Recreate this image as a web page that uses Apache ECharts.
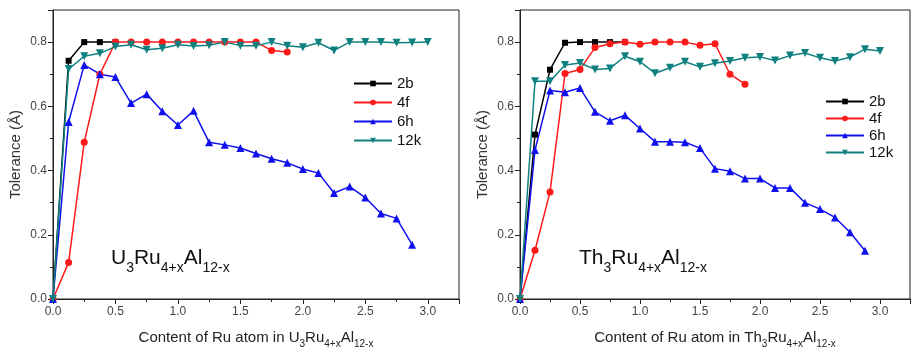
<!DOCTYPE html>
<html><head><meta charset="utf-8">
<script src="https://cdn.jsdelivr.net/npm/echarts@6/dist/echarts.min.js"></script>
<style>html,body{margin:0;padding:0;background:#fff}#c{width:913px;height:354px}</style>
</head><body><div id="c"></div>
<script>
// x step of composition grid (Ru content)
const xStep = 0.125;
const seriesNames = ['2b', '4f', '6h', '12k'];
const xTickLabels = ['0.0', '0.5', '1.0', '1.5', '2.0', '2.5', '3.0'];
const yTickLabels = ['0.0', '0.2', '0.4', '0.6', '0.8'];

// U3Ru4+xAl12-x (left)
const u_2b  = [0, 0.742, 0.800, 0.800, 0.800];
const u_4f  = [0, 0.114, 0.488, 0.700, 0.800, 0.800, 0.800, 0.800, 0.800, 0.800, 0.800, 0.800, 0.800, 0.800, 0.774, 0.769];
const u_6h  = [0, 0.551, 0.729, 0.700, 0.691, 0.610, 0.638, 0.585, 0.542, 0.586, 0.488, 0.480, 0.470, 0.453, 0.437, 0.424, 0.405, 0.392, 0.330, 0.350, 0.316, 0.266, 0.251, 0.169];
const u_12k = [0, 0.716, 0.756, 0.765, 0.786, 0.792, 0.776, 0.781, 0.792, 0.788, 0.790, 0.800, 0.789, 0.789, 0.800, 0.789, 0.784, 0.798, 0.774, 0.800, 0.800, 0.800, 0.798, 0.799, 0.800];

// Th3Ru4+xAl12-x (right)
const th_2b  = [0, 0.512, 0.714, 0.798, 0.800, 0.800, 0.800, 0.800];
const th_4f  = [0, 0.152, 0.333, 0.702, 0.715, 0.783, 0.795, 0.800, 0.793, 0.800, 0.800, 0.800, 0.790, 0.795, 0.700, 0.669];
const th_6h  = [0, 0.464, 0.649, 0.644, 0.657, 0.583, 0.555, 0.572, 0.531, 0.490, 0.490, 0.488, 0.470, 0.406, 0.398, 0.375, 0.375, 0.346, 0.346, 0.300, 0.280, 0.254, 0.208, 0.150];
const th_12k = [0, 0.678, 0.678, 0.729, 0.735, 0.715, 0.718, 0.756, 0.739, 0.703, 0.720, 0.739, 0.723, 0.734, 0.741, 0.751, 0.754, 0.743, 0.758, 0.766, 0.751, 0.741, 0.753, 0.778, 0.772];

const FONT = '"Liberation Sans", Arial, sans-serif';
const colors = {'2b': '#000000', '4f': '#ff1a1a', '6h': '#1010ee', '12k': '#0f8080'};
const symbols = {'2b': 'rect', '4f': 'circle', '6h': 'triangle', '12k': 'path://M0,0 L10,0 L5,9 Z'};
const sizes = {'2b': 6, '4f': 7, '6h': 8, '12k': 8};

function pairs(arr) { return arr.map((v, i) => [i * xStep, v]); }

function mkSeries(name, arr, idx) {
  return {
    name: name, type: 'line', xAxisIndex: idx, yAxisIndex: idx,
    data: pairs(arr), symbol: symbols[name], symbolSize: sizes[name],
    showAllSymbol: true,
    lineStyle: {color: colors[name], width: 1.5},
    itemStyle: {color: colors[name]},
    animation: false
  };
}

const sub = {fontSize: 10, padding: [13, 0, 0, 0], fontFamily: FONT, color: '#222'};
const nrm = {fontSize: 15, fontFamily: FONT, color: '#222'};

function xAx(idx, compound) {
  return {
    type: 'value', gridIndex: idx, min: 0, max: 3.25, interval: 0.5,
    name: compound, nameLocation: 'middle', nameGap: 27,
    nameTextStyle: {rich: {n: nrm, s: sub}},
    axisLine: {lineStyle: {color: '#222', width: 1}},
    axisTick: {inside: false, length: 5, lineStyle: {color: '#222'}},
    minorTick: {show: true, splitNumber: 2, length: 3, lineStyle: {color: '#222'}},
    axisLabel: {color: '#444', fontSize: 12, fontFamily: FONT, margin: 7,
      formatter: v => { const k = Math.round(v / 0.5); return xTickLabels[k] !== undefined && Math.abs(v - k * 0.5) < 1e-9 ? xTickLabels[k] : ''; }},
    splitLine: {show: false}
  };
}
function yAx(idx) {
  return {
    type: 'value', gridIndex: idx, min: 0, max: 0.9, interval: 0.2,
    name: 'Tolerance (Å)', nameLocation: 'middle', nameGap: 30, nameRotate: 90,
    nameTextStyle: {fontSize: 15, fontFamily: FONT, color: '#333'},
    axisLine: {lineStyle: {color: '#222', width: 1}},
    axisTick: {inside: false, length: 5, lineStyle: {color: '#222'}},
    minorTick: {show: true, splitNumber: 2, length: 3, lineStyle: {color: '#222'}},
    axisLabel: {color: '#444', fontSize: 12, fontFamily: FONT, margin: 6,
      formatter: v => { const k = Math.round(v / 0.2); return Math.abs(v - k * 0.2) < 1e-9 && yTickLabels[k] ? yTickLabels[k] : ''; }},
    splitLine: {show: false}
  };
}

const bigRich = {b: {fontSize: 21, fontFamily: FONT, fill: '#111'}, c: {fontSize: 14, fontFamily: FONT, fill: '#111', padding: [20, 0, 0, 0]}};

const chart = echarts.init(document.getElementById('c'), null, {renderer: 'canvas'});
chart.setOption({
  backgroundColor: '#fff',
  animation: false,
  grid: [
    {left: 53, top: 10, width: 406, height: 294, show: true, borderColor: '#222', borderWidth: 1},
    {left: 520, top: 10, width: 400, height: 294, show: true, borderColor: '#222', borderWidth: 1}
  ],
  xAxis: [
    xAx(0, '{n|Content of Ru atom in U}{s|3}{n|Ru}{s|4+x}{n|Al}{s|12-x}'),
    xAx(1, '{n|Content of Ru atom in Th}{s|3}{n|Ru}{s|4+x}{n|Al}{s|12-x}')
  ],
  yAxis: [yAx(0), yAx(1)],
  legend: [
    {data: seriesNames, orient: 'vertical', left: 348, top: 71, itemWidth: 38, itemHeight: 7, itemGap: 4,
     textStyle: {fontSize: 15, fontFamily: FONT, color: '#111'}},
    {data: seriesNames, orient: 'vertical', left: 820, top: 89, itemWidth: 38, itemHeight: 7, itemGap: 2,
     textStyle: {fontSize: 15, fontFamily: FONT, color: '#111'}}
  ],
  graphic: [
    {type: 'text', left: 111, top: 248, style: {text: '{b|U}{c|3}{b|Ru}{c|4+x}{b|Al}{c|12-x}', rich: bigRich}},
    {type: 'text', left: 579, top: 248, style: {text: '{b|Th}{c|3}{b|Ru}{c|4+x}{b|Al}{c|12-x}', rich: bigRich}}
  ],
  series: [
    mkSeries('2b', u_2b, 0), mkSeries('4f', u_4f, 0), mkSeries('6h', u_6h, 0), mkSeries('12k', u_12k, 0),
    mkSeries('2b', th_2b, 1), mkSeries('4f', th_4f, 1), mkSeries('6h', th_6h, 1), mkSeries('12k', th_12k, 1)
  ]
});
</script></body></html>
